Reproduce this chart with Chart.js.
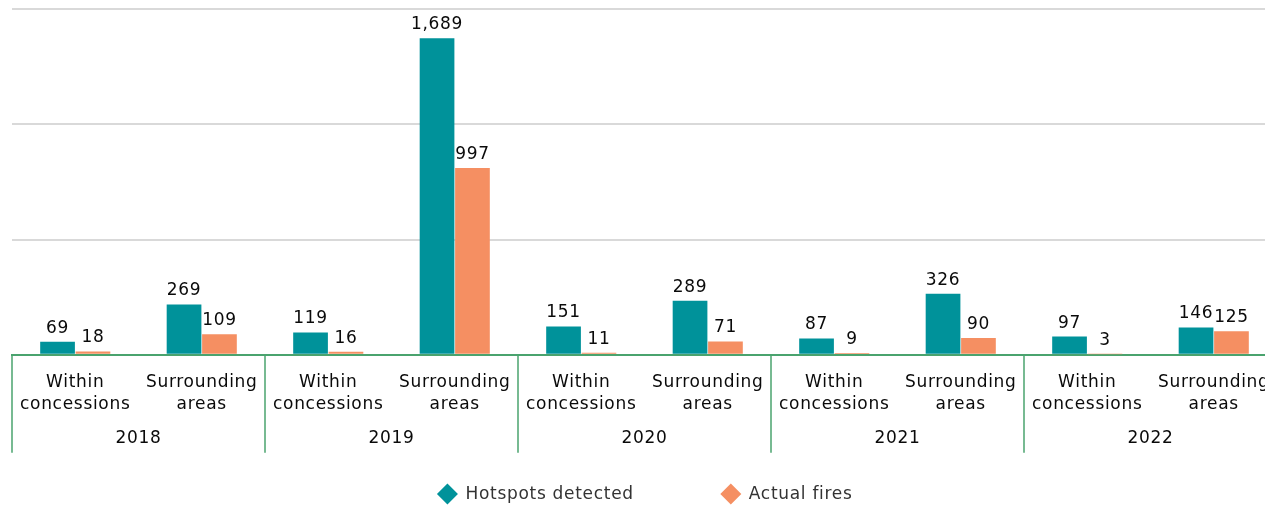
<!DOCTYPE html>
<html>
<head>
<meta charset="utf-8">
<script src="https://cdn.jsdelivr.net/npm/chart.js@4/dist/chart.umd.min.js"></script>
<style>
  html, body { margin: 0; padding: 0; background: #fff; overflow: hidden; }
  #wrap { width: 1280px; height: 505px; }
</style>
</head>
<body>
<div id="wrap"><canvas id="fires"></canvas></div>
<script>
const years = ["2018", "2019", "2020", "2021", "2022"];
const areaLabels = [["Within", "concessions"], ["Surrounding", "areas"]];
const hotspots = [69, 269, 119, 1689, 151, 289, 87, 326, 97, 146];
const actualFires = [18, 109, 16, 997, 11, 71, 9, 90, 3, 125];

const TEAL = "#00929a";
const ORANGE = "#f58f62";
const GREEN = "#4aa36e";
const FONT = "'DejaVu Sans', sans-serif";

// one category per area per year
const categories = [];
years.forEach(() => areaLabels.forEach((l) => categories.push(l)));

// slightly wider lettering for all canvas text
const spacing = {
  id: "spacing",
  beforeInit(chart) { chart.ctx.letterSpacing = "0.7px"; },
  beforeDraw(chart) { chart.ctx.letterSpacing = "0.7px"; },
};

// value labels above each bar
const valueLabels = {
  id: "valueLabels",
  afterDatasetsDraw(chart) {
    const ctx = chart.ctx;
    ctx.save();
    ctx.font = `17px ${FONT}`;
    ctx.fillStyle = "#0a0a0a";
    ctx.textAlign = "center";
    ctx.textBaseline = "bottom";
    chart.data.datasets.forEach((ds, di) => {
      chart.getDatasetMeta(di).data.forEach((bar, i) => {
        ctx.fillText(ds.data[i].toLocaleString("en-US"), bar.x, bar.y - 5);
      });
    });
    ctx.restore();
  },
};

// vertical separators and year names under the area labels
const yearAxis = {
  id: "yearAxis",
  afterDraw(chart) {
    const x = chart.scales.x;
    const area = chart.chartArea;
    const step = (x.getPixelForValue(1) - x.getPixelForValue(0)) * 2;
    const ctx = chart.ctx;
    ctx.save();
    ctx.strokeStyle = GREEN;
    ctx.lineWidth = 1.5;
    for (let i = 0; i <= years.length; i++) {
      const px = area.left + i * step;
      ctx.beginPath();
      ctx.moveTo(px, area.bottom);
      ctx.lineTo(px, area.bottom + 98);
      ctx.stroke();
    }
    ctx.font = `17px ${FONT}`;
    ctx.fillStyle = "#0a0a0a";
    ctx.textAlign = "center";
    ctx.textBaseline = "middle";
    years.forEach((yr, i) => {
      const cx = (x.getPixelForValue(i * 2) + x.getPixelForValue(i * 2 + 1)) / 2;
      ctx.fillText(yr, cx, area.bottom + 84);
    });
    ctx.restore();
  },
};

// diamond legend under the axis
const diamondLegend = {
  id: "diamondLegend",
  afterDraw(chart) {
    const ctx = chart.ctx;
    const y = 494;
    const gap = 87;
    ctx.save();
    ctx.font = `17px ${FONT}`;
    const items = chart.data.datasets.map((ds) => ({
      label: ds.label,
      color: ds.backgroundColor,
      w: 28 + ctx.measureText(ds.label).width,
    }));
    const total = items.reduce((s, it) => s + it.w, 0) + gap * (items.length - 1);
    let px = 645 - total / 2;
    items.forEach((it) => {
      const cx = px + 10;
      ctx.fillStyle = it.color;
      ctx.beginPath();
      ctx.moveTo(cx, y - 10.5);
      ctx.lineTo(cx + 10.5, y);
      ctx.lineTo(cx, y + 10.5);
      ctx.lineTo(cx - 10.5, y);
      ctx.closePath();
      ctx.fill();
      ctx.fillStyle = "#333";
      ctx.textAlign = "left";
      ctx.textBaseline = "middle";
      ctx.fillText(it.label, px + 28, y + 1);
      px += it.w + gap;
    });
    ctx.restore();
  },
};

new Chart(document.getElementById("fires"), {
  type: "bar",
  data: {
    labels: categories,
    datasets: [
      { label: "Hotspots detected", data: hotspots, backgroundColor: TEAL },
      { label: "Actual fires", data: actualFires, backgroundColor: ORANGE },
    ],
  },
  options: {
    responsive: true,
    maintainAspectRatio: false,
    animation: false,
    categoryPercentage: 0.56,
    barPercentage: 0.98,
    layout: { padding: { left: 12, right: 3, top: 9, bottom: 80 } },
    plugins: {
      legend: { display: false },
      tooltip: { enabled: false },
    },
    scales: {
      y: {
        min: 0,
        max: 1845,
        ticks: { display: false, stepSize: 615 },
        grid: {
          color: (c) => (c.tick.value === 0 ? "transparent" : "#d9d9d9"),
          lineWidth: 2,
          drawTicks: false,
        },
        border: { display: false },
      },
      x: {
        grid: { display: false },
        border: { display: true, color: GREEN, width: 2 },
        ticks: {
          autoSkip: false,
          maxRotation: 0,
          padding: 9,
          color: "#0a0a0a",
          font: { family: FONT, size: 17, lineHeight: 1.3 },
        },
      },
    },
  },
  plugins: [spacing, valueLabels, yearAxis, diamondLegend],
});
</script>
</body>
</html>
